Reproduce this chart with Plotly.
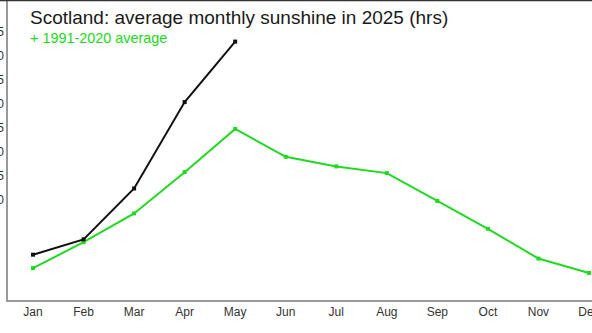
import plotly.graph_objects as go

months = ["Jan", "Feb", "Mar", "Apr", "May", "Jun", "Jul", "Aug", "Sep", "Oct", "Nov", "Dec"]
sun_2025 = [43, 59, 112, 202, 265]
sun_avg = [29, 56, 86, 129, 174, 145, 135, 128, 99, 70, 39, 24]
ytick_vals = [100, 125, 150, 175, 200, 225, 250, 275]

title_text = "Scotland: average monthly sunshine in 2025 (hrs)"
subtitle_text = "+ 1991-2020 average"

FONT = "Helvetica Neue, Helvetica, Arial, Liberation Sans, sans-serif"
GREEN = "#22d822"

xi_2025 = list(range(len(sun_2025)))
xi_avg = list(range(len(sun_avg)))

fig = go.Figure()
fig.add_trace(go.Scatter(
    x=xi_avg, y=sun_avg, mode="lines+markers",
    line=dict(color=GREEN, width=2),
    marker=dict(symbol="square", size=4, color=GREEN),
    showlegend=False, hoverinfo="skip"))
fig.add_trace(go.Scatter(
    x=xi_2025, y=sun_2025, mode="lines+markers",
    line=dict(color="#111111", width=2),
    marker=dict(symbol="square", size=4, color="#111111"),
    showlegend=False, hoverinfo="skip"))

fig.update_layout(
    width=592, height=333,
    margin=dict(l=8, r=0, t=1, b=33, autoexpand=False),
    paper_bgcolor="white", plot_bgcolor="white",
    font=dict(family=FONT, color="#333333", size=12),
    xaxis=dict(
        range=[-0.495, 11.06], automargin=False,
        tickmode="array", tickvals=xi_avg, ticktext=months,
        showgrid=False, zeroline=False,
        showline=True, linecolor="#999999", linewidth=1.5,
        ticks="", tickfont=dict(size=12, color="#333333"),
        ticklabeloverflow="allow",
    ),
    yaxis=dict(
        range=[-4.2, 307.3], automargin=False,
        tickmode="array", tickvals=ytick_vals,
        showgrid=False, zeroline=False,
        showline=True, linecolor="#999999", linewidth=1.5,
        ticks="", tickfont=dict(size=12, color="#333333"),
        ticklabeloverflow="allow",
    ),
    annotations=[
        dict(text=title_text, xref="paper", yref="paper",
             x=20 / 584, y=1 - 4 / 299, xanchor="left", yanchor="top",
             showarrow=False, font=dict(size=19, color="#1a1a1a", family=FONT)),
        dict(text=subtitle_text, xref="paper", yref="paper",
             x=20 / 584, y=1 - 27 / 299, xanchor="left", yanchor="top",
             showarrow=False, font=dict(size=14.4, color=GREEN, family=FONT)),
    ],
    shapes=[
        dict(type="line", xref="paper", yref="paper",
             x0=-8 / 584, x1=1, y0=1 + 0.5 / 299, y1=1 + 0.5 / 299,
             line=dict(color="#333333", width=1.5)),
    ],
)

fig.write_html("out.html")
